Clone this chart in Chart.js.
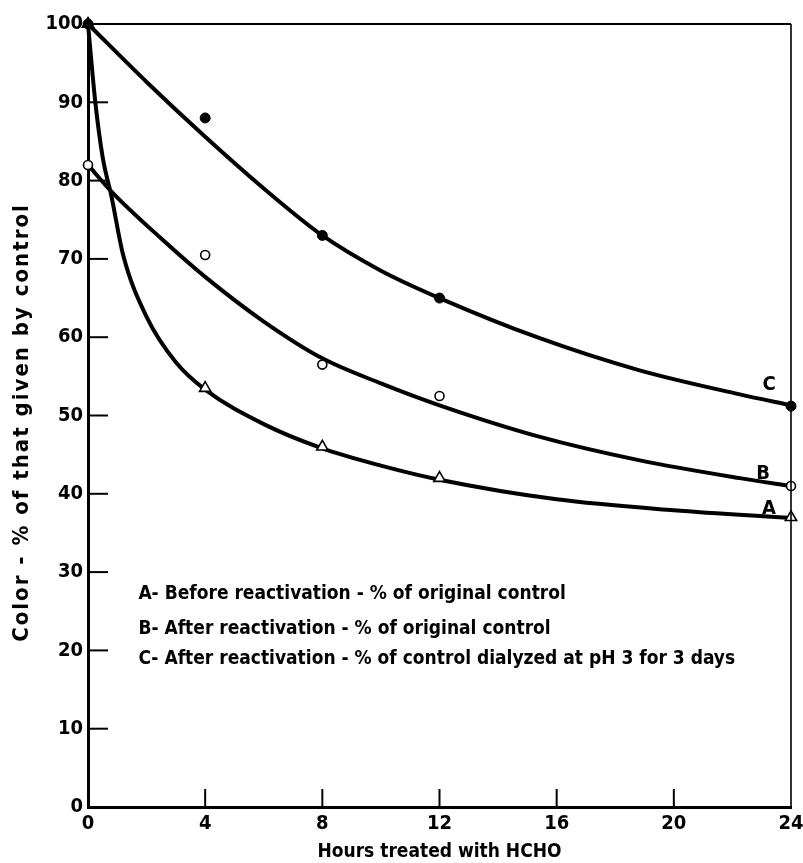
<!DOCTYPE html>
<html>
<head>
<meta charset="utf-8">
<script src="https://cdn.jsdelivr.net/npm/chart.js@4/dist/chart.umd.min.js"></script>
<style>
  html, body { margin: 0; padding: 0; background: #fff; }
  #wrap { width: 803px; height: 863px; position: relative; }
</style>
</head>
<body>
<div id="wrap"><canvas id="c" width="803" height="863"></canvas></div>
<script>
// ---- Data ----
const hours = [0, 4, 8, 12, 24];
const seriesA = [100, 53.5, 46, 42, 37];     // before reactivation (triangles)
const seriesB = [82, 70.5, 56.5, 52.5, 41];  // after reactivation (open circles)
const seriesC = [100, 88, 73, 65, 51.2];     // after reactivation, dialyzed control (filled circles)

// hand-drawn fitted curves
const curveAHours  = [0, 0.25, 0.5, 0.8, 1.2, 2, 3, 4, 6, 8, 10, 12, 16, 20, 24];
const curveAValues = [100, 90, 83, 78, 70.5, 62.6, 56.8, 53.3, 48.9, 45.8, 43.6, 41.8, 39.3, 37.9, 36.9];
const curveBHours  = [0, 0.8, 2.5, 4, 6, 8, 10, 12, 15.4, 18.8, 22.25, 24];
const curveBValues = [82, 78.6, 72.6, 67.7, 62.0, 57.3, 54.1, 51.3, 47.3, 44.3, 42, 41];
const curveCHours  = [0, 2, 4, 6, 8, 10, 12, 15.4, 18.8, 22.25, 24];
const curveCValues = [100, 92.6, 85.6, 79, 73, 68.5, 65, 59.9, 55.8, 52.7, 51.3];

const xTicks = [0, 4, 8, 12, 16, 20, 24];
const yTicks = [0, 10, 20, 30, 40, 50, 60, 70, 80, 90, 100];

const xTitle = 'Hours treated with HCHO';
const yTitle = 'Color - % of that given by control';
const noteLines = [
  'A- Before reactivation - % of original control',
  'B- After reactivation - % of original control',
  'C- After reactivation - % of control dialyzed at pH 3 for 3 days'
];
const curveLabels = ['A', 'B', 'C'];

// ---- helpers ----
const FONT = '"DejaVu Sans Condensed", "Liberation Sans Narrow", sans-serif';
const pts = (xs, ys) => xs.map((x, i) => ({ x: x, y: ys[i] }));

const curveStyle = {
  type: 'line', borderColor: '#000', borderWidth: 4, pointRadius: 0,
  cubicInterpolationMode: 'monotone', fill: false, clip: false, order: 2
};

const frame = {
  id: 'frame',
  afterDatasetsDraw(chart) {
    const { ctx, chartArea: a, scales } = chart;
    const xs = scales.x, ys = scales.y;
    ctx.save();
    ctx.strokeStyle = '#000';
    ctx.lineCap = 'butt';
    // top and right border
    ctx.lineWidth = 2;
    ctx.beginPath(); ctx.moveTo(a.left, a.top); ctx.lineTo(a.right, a.top); ctx.stroke();
    ctx.lineWidth = 1.6;
    ctx.beginPath(); ctx.moveTo(a.right, a.top); ctx.lineTo(a.right, a.bottom); ctx.stroke();
    // inward ticks
    ctx.lineWidth = 2;
    yTicks.slice(1, -1).forEach(v => {
      const y = ys.getPixelForValue(v);
      ctx.beginPath(); ctx.moveTo(a.left, y); ctx.lineTo(a.left + 20, y); ctx.stroke();
    });
    xTicks.slice(1, -1).forEach(v => {
      const x = xs.getPixelForValue(v);
      ctx.beginPath(); ctx.moveTo(x, a.bottom); ctx.lineTo(x, a.bottom - 18); ctx.stroke();
    });
    ctx.fillStyle = '#000';
    // curve end labels
    ctx.font = 'bold 20px ' + FONT;
    ctx.textAlign = 'center'; ctx.textBaseline = 'middle';
    const labelPos = [[23.25, 38.1], [23.05, 42.6], [23.25, 53.9]];
    curveLabels.forEach((t, i) => {
      ctx.fillText(t, xs.getPixelForValue(labelPos[i][0]), ys.getPixelForValue(labelPos[i][1]));
    });
    // explanatory note
    ctx.textAlign = 'left';
    ctx.font = 'bold 19px ' + FONT;
    const noteY = [27.2, 22.7, 18.9];
    noteLines.forEach((t, i) => {
      ctx.fillText(t, xs.getPixelForValue(1.72), ys.getPixelForValue(noteY[i]));
    });
    // y axis title (letter-spaced like the original)
    ctx.save();
    ctx.translate(22, (a.top + a.bottom) / 2 + 7);
    ctx.rotate(-Math.PI / 2);
    ctx.font = 'bold 22px ' + FONT;
    if ('letterSpacing' in ctx) ctx.letterSpacing = '2px';
    ctx.textAlign = 'center'; ctx.textBaseline = 'middle';
    ctx.fillText(yTitle, 0, 0);
    ctx.restore();
    ctx.restore();
  }
};

new Chart(document.getElementById('c'), {
  type: 'scatter',
  data: {
    datasets: [
      Object.assign({ label: 'A curve', data: pts(curveAHours, curveAValues) }, curveStyle),
      Object.assign({ label: 'B curve', data: pts(curveBHours, curveBValues) }, curveStyle),
      Object.assign({ label: 'C curve', data: pts(curveCHours, curveCValues) }, curveStyle),
      { label: 'A', data: pts(hours, seriesA), pointStyle: 'triangle', pointRadius: 6.5,
        backgroundColor: '#fff', borderColor: '#000', borderWidth: 1.6, clip: false, order: 0 },
      { label: 'B', data: pts(hours, seriesB), pointStyle: 'circle', pointRadius: 4.5,
        backgroundColor: '#fff', borderColor: '#000', borderWidth: 1.6, clip: false, order: 0 },
      { label: 'C', data: pts(hours, seriesC), pointStyle: 'circle', pointRadius: 5,
        backgroundColor: '#000', borderColor: '#000', borderWidth: 1, clip: false, order: -1 }
    ]
  },
  options: {
    responsive: false,
    animation: false,
    layout: { padding: { top: 24, right: 12, left: 0, bottom: 0 } },
    plugins: { legend: { display: false }, tooltip: { enabled: false } },
    scales: {
      x: {
        type: 'linear', min: 0, max: 24,
        afterBuildTicks: s => { s.ticks = xTicks.map(v => ({ value: v })); },
        afterFit: s => { s.height = 56; s.paddingLeft = 0; s.paddingRight = 0; },
        grid: { display: false, drawTicks: false },
        border: { display: true, color: '#000', width: 3 },
        ticks: { color: '#000', padding: 5, font: { family: FONT, size: 20, weight: 'bold' } },
        title: { display: true, text: xTitle, color: '#000', padding: { top: 2, bottom: 0 },
                 font: { family: FONT, size: 19, weight: 'bold' } }
      },
      y: {
        type: 'linear', min: 0, max: 100,
        afterBuildTicks: s => { s.ticks = yTicks.map(v => ({ value: v })); },
        afterFit: s => { s.width = 88; s.paddingTop = 0; s.paddingBottom = 0; },
        grid: { display: false, drawTicks: false },
        border: { display: true, color: '#000', width: 3 },
        ticks: { color: '#000', padding: 5, font: { family: FONT, size: 20, weight: 'bold' } },
        title: { display: false }
      }
    }
  },
  plugins: [frame]
});
</script>
</body>
</html>
